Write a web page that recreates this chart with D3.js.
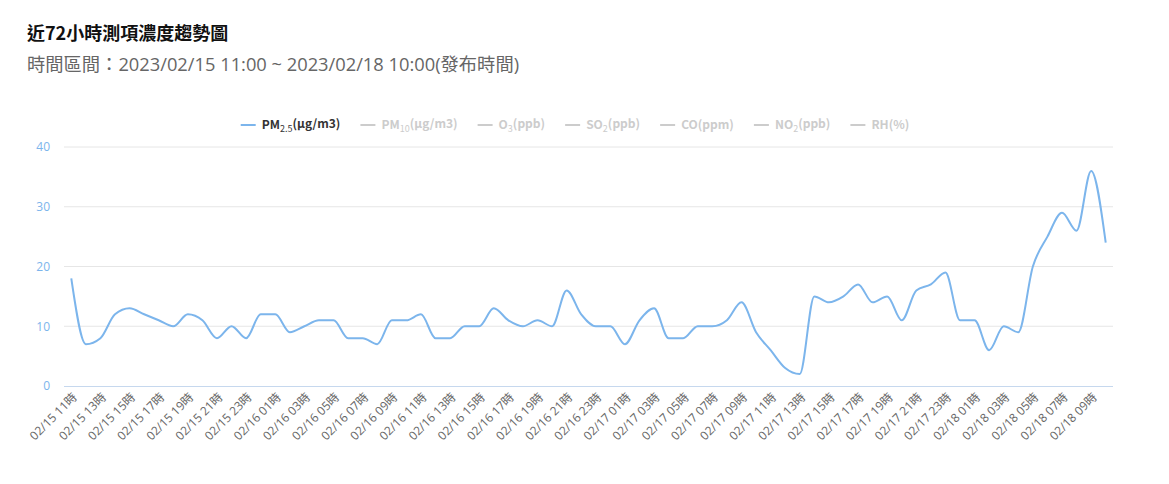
<!DOCTYPE html>
<html>
<head>
<meta charset="utf-8">
<script src="https://cdn.jsdelivr.net/npm/d3@7"></script>
<style>
  body { margin: 0; background: #fff; }
  svg { display: block; font-family: "Noto Sans CJK TC", "Noto Sans", sans-serif; }
</style>
</head>
<body>
<div id="chart"></div>
<script>
// 1: DATA
const categories = [
    "02/15 11時", "02/15 12時", "02/15 13時", "02/15 14時", "02/15 15時", "02/15 16時",
    "02/15 17時", "02/15 18時", "02/15 19時", "02/15 20時", "02/15 21時", "02/15 22時",
    "02/15 23時", "02/16 00時", "02/16 01時", "02/16 02時", "02/16 03時", "02/16 04時",
    "02/16 05時", "02/16 06時", "02/16 07時", "02/16 08時", "02/16 09時", "02/16 10時",
    "02/16 11時", "02/16 12時", "02/16 13時", "02/16 14時", "02/16 15時", "02/16 16時",
    "02/16 17時", "02/16 18時", "02/16 19時", "02/16 20時", "02/16 21時", "02/16 22時",
    "02/16 23時", "02/17 00時", "02/17 01時", "02/17 02時", "02/17 03時", "02/17 04時",
    "02/17 05時", "02/17 06時", "02/17 07時", "02/17 08時", "02/17 09時", "02/17 10時",
    "02/17 11時", "02/17 12時", "02/17 13時", "02/17 14時", "02/17 15時", "02/17 16時",
    "02/17 17時", "02/17 18時", "02/17 19時", "02/17 20時", "02/17 21時", "02/17 22時",
    "02/17 23時", "02/18 00時", "02/18 01時", "02/18 02時", "02/18 03時", "02/18 04時",
    "02/18 05時", "02/18 06時", "02/18 07時", "02/18 08時", "02/18 09時", "02/18 10時"
];

// PM2.5 (μg/m3), one value per hour
const pm25 = [
    18, 7, 8, 12, 13, 12, 11, 10, 12, 11, 8, 10,
    8, 12, 12, 9, 10, 11, 11, 8, 8, 7, 11, 11,
    12, 8, 8, 10, 10, 13, 11, 10, 11, 10, 16, 12,
    10, 10, 7, 11, 13, 8, 8, 10, 10, 11, 14, 9,
    6, 3, 2, 15, 14, 15, 17, 14, 15, 11, 16, 17,
    19, 11, 11, 6, 10, 9, 20, 25, 29, 26, 36, 24
];

const yTicks = [0, 10, 20, 30, 40];

// legend: [main, subscript, unit]
const legendItems = [
    ["PM", "2.5", "(μg/m3)"],
    ["PM", "10", "(μg/m3)"],
    ["O", "3", "(ppb)"],
    ["SO", "2", "(ppb)"],
    ["CO", "", "(ppm)"],
    ["NO", "2", "(ppb)"],
    ["RH(%)", "", ""]
];

// 2: LAYOUT
const W = 1169, H = 484;
const plot = { left: 64, right: 1113, top: 147, bottom: 386 };
const lineColor = "#7cb5ec";

const svg = d3.select("#chart").append("svg")
    .attr("width", W)
    .attr("height", H);

// titles
svg.append("text")
    .attr("x", 27).attr("y", 40)
    .style("font-size", "18px")
    .style("font-weight", "bold")
    .style("fill", "#111")
    .text("近72小時測項濃度趨勢圖");

svg.append("text")
    .attr("x", 27).attr("y", 71)
    .style("font-size", "18.3px")
    .style("fill", "#666")
    .style("font-family", "'Open Sans', 'Noto Sans CJK TC', sans-serif")
    .text("時間區間：2023/02/15 11:00 ~ 2023/02/18 10:00(發布時間)");

// 3: SCALES
const xScale = d3.scalePoint()
    .domain(categories)
    .range([plot.left, plot.right])
    .padding(0.5);

const yScale = d3.scaleLinear()
    .domain([0, 40])
    .range([plot.bottom, plot.top]);

// 4: GRID + Y AXIS
svg.append("g")
    .selectAll("line")
    .data(yTicks.filter(d => d > 0))
    .enter()
    .append("line")
    .attr("x1", plot.left).attr("x2", plot.right)
    .attr("y1", d => yScale(d)).attr("y2", d => yScale(d))
    .style("stroke", "#e6e6e6")
    .style("stroke-width", 1);

const yAxis = svg.append("g")
    .attr("transform", `translate(${plot.left - 14},0)`)
    .call(d3.axisLeft(yScale).tickValues(yTicks).tickSize(0).tickPadding(0));
yAxis.select(".domain").remove();
yAxis.selectAll(".tick text")
    .style("font-size", "12px")
    .style("fill", "#7cb5ec")
    .style("font-family", "'Open Sans', sans-serif");

// 5: X AXIS
const xAxis = svg.append("g")
    .attr("transform", `translate(0,${plot.bottom})`)
    .call(d3.axisBottom(xScale)
        .tickValues(categories.filter((d, i) => i % 2 === 0))
        .tickSize(0)
        .tickSizeOuter(0));
xAxis.select(".domain")
    .attr("d", `M${plot.left},0.5H${plot.right}`)
    .style("stroke", "#c6d8ee");
xAxis.selectAll(".tick text")
    .attr("x", 0)
    .attr("y", 0)
    .attr("dy", "0.35em")
    .attr("transform", "translate(3,9) rotate(-45)")
    .attr("text-anchor", "end")
    .style("font-size", "12px")
    .style("fill", "#666")
    .style("font-family", "'Open Sans', 'Noto Sans CJK TC', sans-serif");

// 6: LINE
const line = d3.line()
    .x((d, i) => xScale(categories[i]))
    .y(d => yScale(d))
    .curve(d3.curveMonotoneX);

svg.append("path")
    .datum(pm25)
    .attr("d", line)
    .style("fill", "none")
    .style("stroke", lineColor)
    .style("stroke-width", 2);

// 7: LEGEND
const legend = svg.append("g");
const items = legend.selectAll(".legend")
    .data(legendItems)
    .enter()
    .append("g")
    .attr("class", "legend");

items.append("line")
    .attr("x1", 0).attr("x2", 15)
    .attr("y1", 0).attr("y2", 0)
    .style("stroke", (d, i) => i === 0 ? lineColor : "#ccc")
    .style("stroke-width", 2);

const labels = items.append("text")
    .attr("x", 21)
    .attr("y", 0)
    .attr("dy", "0.35em")
    .style("font-size", "12px")
    .style("font-weight", "bold")
    .style("fill", (d, i) => i === 0 ? "#333" : "#ccc");

labels.each(function(d) {
    const t = d3.select(this);
    t.append("tspan").text(d[0]);
    if (d[1]) {
        t.append("tspan")
            .attr("dy", "0.3em")
            .style("font-size", "9px")
            .style("font-weight", "normal")
            .text(d[1]);
        t.append("tspan").attr("dy", "-0.3em").text(d[2]);
    } else if (d[2]) {
        t.append("tspan").text(d[2]);
    }
});

// lay items out side by side, centred
let offset = 0;
const offsets = [];
labels.each(function() {
    offsets.push(offset);
    offset += 21 + this.getComputedTextLength() + 20;
});
const total = offset - 20;
const legendCenter = 575;
items.attr("transform", (d, i) => `translate(${legendCenter - total / 2 + offsets[i]},125)`);
</script>
</body>
</html>
